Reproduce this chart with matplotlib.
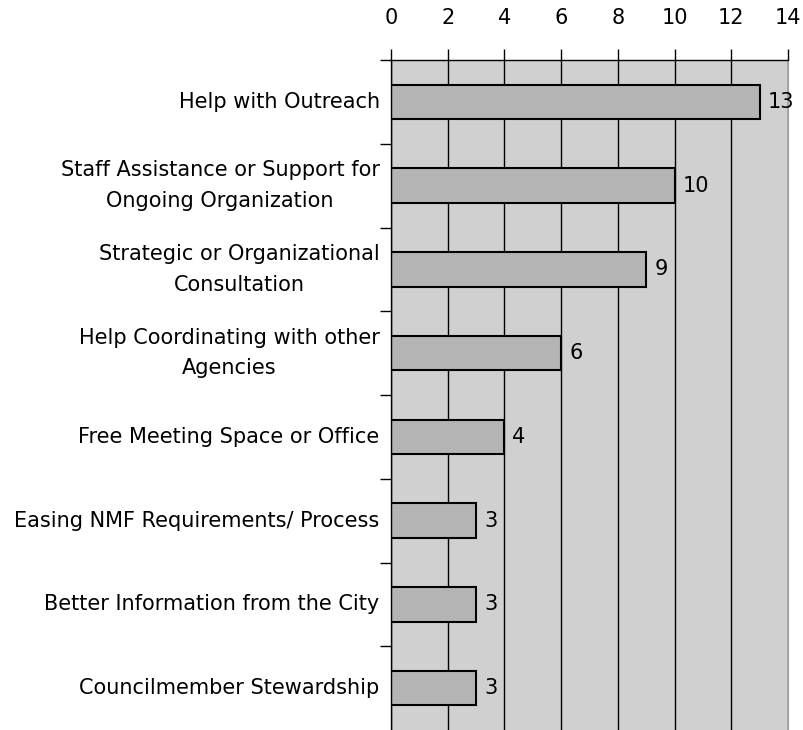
import numpy as np
import matplotlib.pyplot as plt

categories = ["Help with Outreach",
              "Staff Assistance or Support for\nOngoing Organization",
              "Strategic or Organizational\nConsultation",
              "Help Coordinating with other\nAgencies",
              "Free Meeting Space or Office",
              "Easing NMF Requirements/ Process",
              "Better Information from the City",
              "Councilmember Stewardship"]
values = [13, 10, 9, 6, 4, 3, 3, 3]
xticks = [0, 2, 4, 6, 8, 10, 12, 14]

plt.rcParams['font.family'] = ['DejaVu Sans']

fig = plt.figure(figsize=(8.04, 7.30), dpi=100)
ax = fig.add_axes([391/804, 0, (788-391)/804, 670/730])

n = len(categories)
y = np.arange(n)
ax.set_facecolor('#d0d0d0')
ax.set_xlim(0, 14)
ax.set_ylim(n - 0.5, -0.5)
ax.set_axisbelow(True)
for t in xticks:
    ax.axvline(t, color='black', lw=1, zorder=0.5)

ax.barh(y, values, height=0.41, color='#b4b4b4', edgecolor='black', lw=1.5, zorder=2)
for yi, v in zip(y, values):
    ax.text(v + 0.28, yi, str(v), va='center', ha='left', fontsize=15)

ax.xaxis.tick_top()
ax.set_xticks(xticks)
ax.set_xticklabels([str(t) for t in xticks], fontsize=15)
ax.tick_params(axis='x', length=8, width=1, direction='out', pad=15)

ax.set_yticks(np.arange(n) - 0.5)
ax.set_yticklabels([])
ax.tick_params(axis='y', length=8, width=1, direction='out')
for yi, c in zip(y, categories):
    ax.text(-0.4, yi, c, ha='right', va='center', multialignment='center', fontsize=15,
            linespacing=1.65)

ax.spines['bottom'].set_visible(False)
ax.spines['right'].set_color('#a0a0a0')
ax.spines['top'].set_linewidth(1)
ax.spines['left'].set_linewidth(1)

fig.savefig('out.png', dpi=100)
